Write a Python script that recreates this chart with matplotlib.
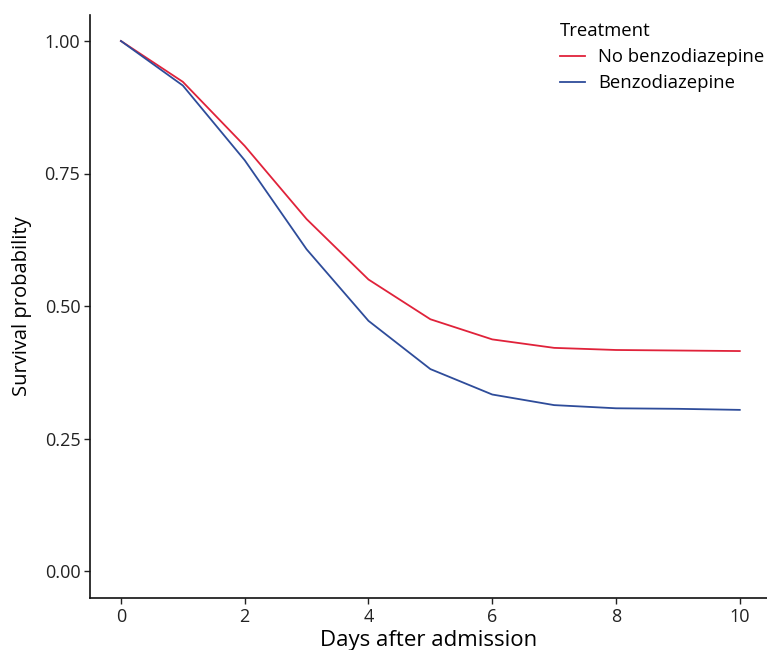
import numpy as np
import matplotlib
matplotlib.use('Agg')
import matplotlib.pyplot as plt

plt.rcParams['font.family'] = ['Open Sans', 'DejaVu Sans']

# 数据
days = [0, 1, 2, 3, 4, 5, 6, 7, 8, 9, 10]
no_benzo = [1.0, 0.923, 0.802, 0.664, 0.550, 0.475, 0.437, 0.421, 0.417, 0.416, 0.415]
benzo = [1.0, 0.916, 0.775, 0.607, 0.472, 0.381, 0.333, 0.313, 0.307, 0.306, 0.304]
y_ticks = [0.0, 0.25, 0.50, 0.75, 1.00]
x_ticks = [0, 2, 4, 6, 8, 10]

fig = plt.figure(figsize=(7.67, 6.5), dpi=100)
ax = fig.add_axes([90 / 767, 52.5 / 650, 677 / 767, 583 / 650])

ax.plot(days, no_benzo, color='#E0223A', lw=1.3, label='No benzodiazepine')
ax.plot(days, benzo, color='#2E4C9A', lw=1.3, label='Benzodiazepine')

ax.set_xlim(-0.5, 10.44)
ax.set_ylim(-0.05, 1.05)
ax.set_xticks(x_ticks)
ax.set_yticks(y_ticks)
ax.set_yticklabels([f'{v:.2f}' for v in y_ticks])
ax.tick_params(labelsize=13, length=4, width=1, colors='#222222')
ax.tick_params(axis='y', pad=3)

for s in ['top', 'right']:
    ax.spines[s].set_visible(False)
for s in ['left', 'bottom']:
    ax.spines[s].set_linewidth(1.2)
    ax.spines[s].set_color('#111111')

ax.set_xlabel('Days after admission', fontsize=16, labelpad=3)
ax.set_ylabel('Survival probability', fontsize=14.5, labelpad=9)

leg = ax.legend(title='Treatment', loc='upper left', bbox_to_anchor=(0.67, 1.016),
                frameon=False, fontsize=13.3, title_fontsize=13.3,
                handlelength=1.35, handletextpad=0.7, labelspacing=0.45)
leg._legend_box.align = 'left'

fig.savefig('out.png', dpi=100)
